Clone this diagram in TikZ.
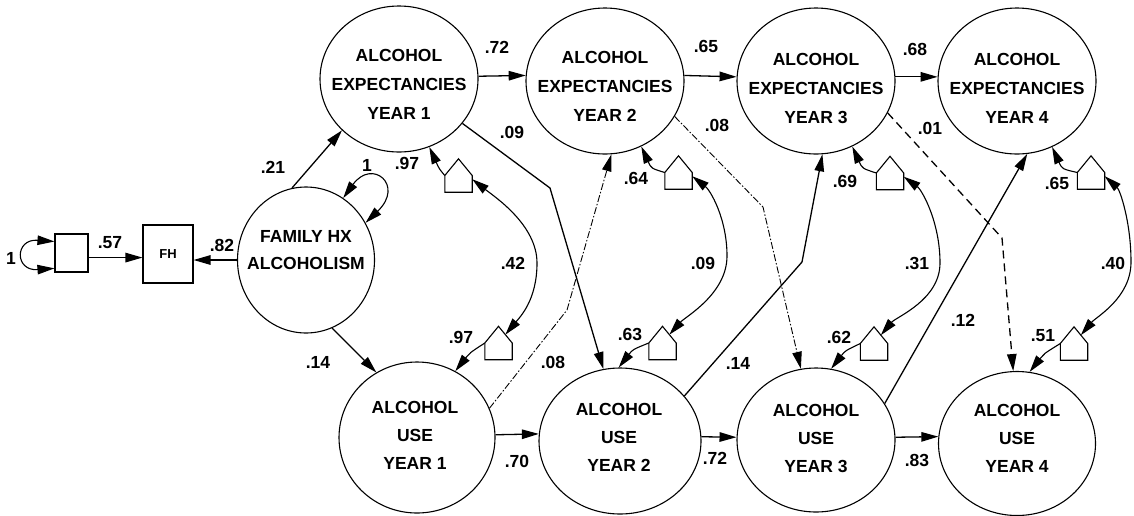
\documentclass[tikz,border=0pt]{standalone}
\usepackage{fontspec}
\setmainfont{Liberation Sans}
\usetikzlibrary{arrows.meta,calc,shapes.geometric}
\begin{document}
\begin{tikzpicture}[x=1pt,y=-1pt,
  latent/.style={ellipse,draw,line width=1.1pt,minimum width=158pt,minimum height=146pt,inner sep=0pt},
  ntext/.style={align=center,inner sep=0pt,font=\bfseries\fontsize{17.5}{29}\selectfont},
  utext/.style={align=center,inner sep=0pt,font=\bfseries\fontsize{17.5}{28}\selectfont},
  lab/.style={inner sep=0pt,font=\bfseries\fontsize{17.5}{20}\selectfont},
  house/.style={rectangle,minimum width=27pt,minimum height=33pt,inner sep=0pt},
  hline/.style={line width=1.1pt,line join=miter},
  sqbox/.style={rectangle,draw,line width=1.1pt,inner sep=0pt},
  conn/.style={line width=1.3pt,-{Triangle[length=17pt,width=9.5pt]}},
  dd/.style={conn,line width=0.9pt,dash pattern=on 7pt off 2pt on 1.5pt off 2pt},
  dsh/.style={conn,dash pattern=on 8pt off 5pt},
  cov/.style={line width=1.1pt,{Triangle[length=17pt,width=9.5pt]}-{Triangle[length=17pt,width=9.5pt]}}
]
\useasboundingbox (0,0) rectangle (1134,515);

% latent variables
\node[latent] (E1) at (399,79) {};
\node[latent] (E2) at (605,81) {};
\node[latent] (E3) at (816,81) {};
\node[latent] (E4) at (1017,81) {};
\node[latent,minimum width=156pt,minimum height=151pt] (U1) at (417,437.5) {};
\node[latent,minimum width=162pt] (U2) at (620,441) {};
\node[latent,minimum height=144pt] (U3) at (816,440) {};
\node[latent,minimum width=157pt,minimum height=144pt] (U4) at (1017,443.5) {};
\node[latent,minimum width=137pt,minimum height=146pt] (FX) at (306,260) {};

\node[ntext] (E1t) at ($(E1)+(0,5)$) {ALCOHOL\\EXPECTANCIES\\YEAR 1};
\node[ntext] (E2t) at ($(E2)+(0,5)$) {ALCOHOL\\EXPECTANCIES\\YEAR 2};
\node[ntext] (E3t) at ($(E3)+(0,7)$) {ALCOHOL\\EXPECTANCIES\\YEAR 3};
\node[ntext] (E4t) at ($(E4)+(0,7)$) {ALCOHOL\\EXPECTANCIES\\YEAR 4};
\node[utext] (U1t) at (415,435) {ALCOHOL\\USE\hspace*{14pt}\\YEAR 1};
\node[utext] (U2t) at (619,437) {ALCOHOL\\USE\\YEAR 2};
\node[utext] (U3t) at (816,438) {ALCOHOL\\USE\\YEAR 3};
\node[utext] (U4t) at (1017,438) {ALCOHOL\\USE\\YEAR 4};
\node[align=center,inner sep=0pt,font=\bfseries\fontsize{17.5}{27}\selectfont] (FXt) at (306,250) {FAMILY HX\\ALCOHOLISM};

% observed / boxes
\node[sqbox,minimum width=50pt,minimum height=58pt,font=\bfseries\fontsize{13}{15}\selectfont] (FH) at (168,254) {FH};
\node[sqbox,minimum width=33pt,minimum height=38pt] (SQ) at (71.5,253) {};

% disturbances
\node[house] (E1d) at (458.5,175.5) {};
\node[house] (E2d) at (678.5,172.5) {};
\node[house] (E3d) at (890,173) {};
\node[house] (E4d) at (1091,172.5) {};
\node[house] (U1d) at (498.5,343) {};
\node[house] (U2d) at (662.5,343) {};
\node[house] (U3d) at (874,343.5) {};
\node[house] (U4d) at (1074,343.5) {};
\foreach \h in {E1d,E2d,E3d,E4d,U1d,U2d,U3d,U4d}
  \draw[hline] (\h.south west) -- (\h.west) -- (\h.north) -- (\h.east) -- (\h.south east) -- cycle;

% left part
\draw[cov] (SQ.146) .. controls ($(SQ.146)+(-40,-3)$) and ($(SQ.222)+(-40,3)$) .. (SQ.222);
\draw[conn] (SQ.-15) -- (SQ.-15 -| FH.west);
\draw[conn] (FX.west) -- (FX.west -| FH.east);
\draw[cov] (FX.59) .. controls (372,158) and (405,185) .. (FX.32);
\draw[conn] (FX.101) -- (E1.-138);
\draw[conn] (FX.-69) -- (U1.122);

% autoregressive paths
\draw[conn] (E1.2) -- (E2.176);
\draw[conn] (E2.4) -- (E3.177);
\draw[conn] (E3.3) -- (E4.177);
\draw[conn] (U1.2) -- (U2.175);
\draw[conn] (U2.3) -- (U3.178);
\draw[conn] (U3.2) -- (U4.175);

% cross-lagged paths
\coordinate (b1) at (550,188);
\coordinate (b2) at (567,310);
\coordinate (b3) at (763,207);
\coordinate (b4) at (802,262);
\coordinate (b5) at (1002,238);
\draw[conn] (E1.-35.8) -- (b1) -- (U2.103.5);
\draw[dd] (U1.22) -- (b2) -- (E2.-85.4);
\draw[dd] (E2.-27) -- (b3) -- (U3.102.4);
\draw[conn] (U2.35.4) -- (b4) -- (E3.-85.5);
\draw[dsh] (E3.-24) -- (b5) -- (U4.93.8);
\draw[conn] (U3.28) -- (E4.-82);

% disturbance paths
\draw[conn,line width=1.1pt] (E1d.west) .. controls ($(E1.-66.9)+(10,22)$) .. (E1.-66.9);
\draw[conn,line width=1.1pt] (E2d.west) .. controls ($(E2.-61)+(10,22)$) .. (E2.-61);
\draw[conn,line width=1.1pt] (E3d.west) .. controls ($(E3.-61)+(10,22)$) .. (E3.-61);
\draw[conn,line width=1.1pt] (E4d.west) .. controls ($(E4.-62)+(10,22)$) .. (E4.-62);
\draw[conn,line width=1.1pt] (U1d.west) .. controls ($(U1.60)+(14,-18)$) .. (U1.60);
\draw[conn,line width=1.1pt] (U2d.west) .. controls ($(U2.91.6)+(14,-18)$) .. (U2.91.6);
\draw[conn,line width=1.1pt] (U3d.west) .. controls ($(U3.78)+(14,-18)$) .. (U3.78);
\draw[conn,line width=1.1pt] (U4d.west) .. controls ($(U4.80)+(14,-18)$) .. (U4.80);

% disturbance covariances
\coordinate (k1) at (537,263);
\coordinate (k2) at (727,256);
\coordinate (k3) at (940,263);
\coordinate (k4) at (1131,262);
\draw[cov] (E1d.-15) .. controls (495,197) and (537,225) .. (k1) .. controls (537,300) and (520,317) .. ($(U1d.north)!0.5!(U1d.east)$);
\draw[cov] (E2d.-15) .. controls (710,190) and (727,218) .. (k2) .. controls (727,294) and (685,317) .. ($(U2d.north)!0.5!(U2d.east)$);
\draw[cov] (E3d.-15) .. controls (922,190) and (940,222) .. (k3) .. controls (940,300) and (896,317) .. ($(U3d.north)!0.5!(U3d.east)$);
\draw[cov] (E4d.-15) .. controls (1120,190) and (1131,222) .. (k4) .. controls (1131,298) and (1096,317) .. ($(U4d.north)!0.5!(U4d.east)$);

% labels
\node[lab] (l01) at (273,167) {.21};
\node[lab] (l02) at (367,165) {1};
\node[lab] (l03) at (407,163) {.97};
\node[lab] (l04) at (497,47) {.72};
\node[lab] (l05) at (512,132) {.09};
\node[lab] (l06) at (706,46) {.65};
\node[lab] (l07) at (717,125) {.08};
\node[lab] (l08) at (915,49) {.68};
\node[lab] (l09) at (930,128) {.01};
\node[lab] (l10) at (636,178) {.64};
\node[lab] (l11) at (845,181) {.69};
\node[lab] (l12) at (1057,183) {.65};
\node[lab] (l13) at (110,243) {.57};
\node[lab] (l14) at (222,245) {.82};
\node[lab] (l15) at (11,258) {1};
\node[lab] (l16) at (513,263) {.42};
\node[lab] (l17) at (703,263) {.09};
\node[lab] (l18) at (917,263) {.31};
\node[lab] (l19) at (1113,263) {.40};
\node[lab] (l20) at (963,320) {.12};
\node[lab] (l21) at (461,337) {.97};
\node[lab] (l22) at (630,334) {.63};
\node[lab] (l23) at (839,337) {.62};
\node[lab] (l24) at (1043,336) {.51};
\node[lab] (l25) at (318,362) {.14};
\node[lab] (l26) at (553,362) {.08};
\node[lab] (l27) at (738,363) {.14};
\node[lab] (l28) at (517,461) {.70};
\node[lab] (l29) at (715,458) {.72};
\node[lab] (l30) at (917,460) {.83};
\end{tikzpicture}
\end{document}
